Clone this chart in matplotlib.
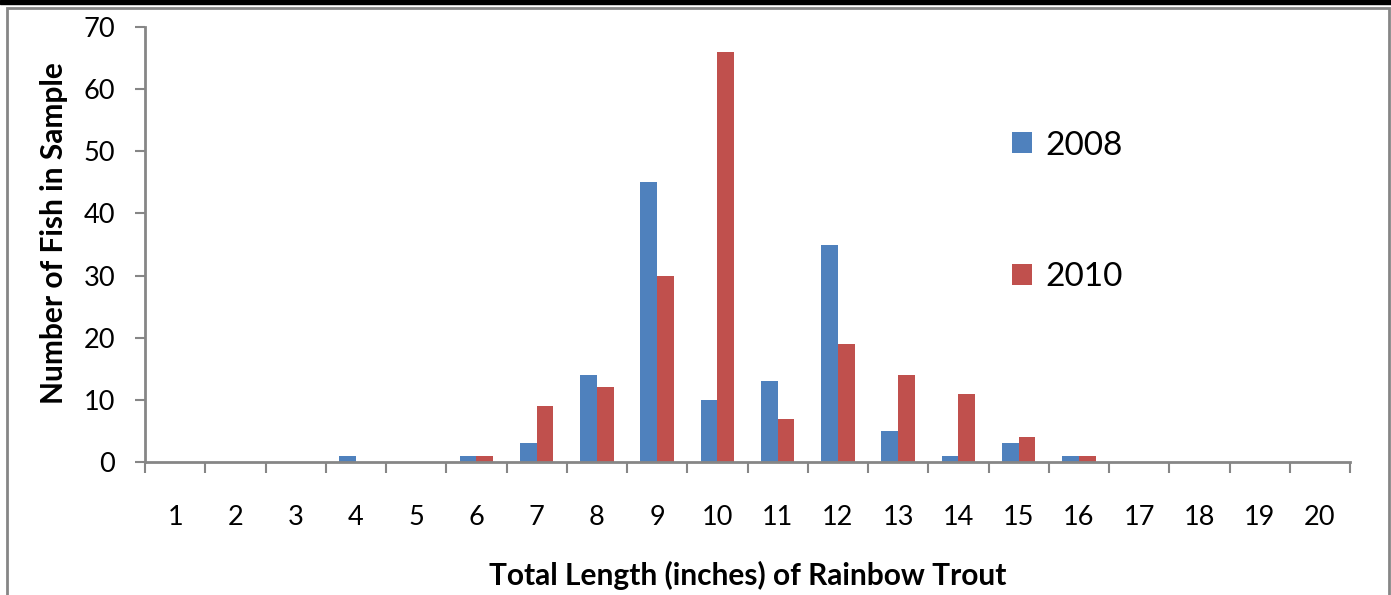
import numpy as np
import matplotlib.pyplot as plt
from matplotlib.patches import Rectangle

# Length classes (inches) and fish counts per year
lengths = list(range(1, 21))
count_2008 = [0, 0, 0, 1, 0, 1, 3, 14, 45, 10, 13, 35, 5, 1, 3, 1, 0, 0, 0, 0]
count_2010 = [0, 0, 0, 0, 0, 1, 9, 12, 30, 66, 7, 19, 14, 11, 4, 1, 0, 0, 0, 0]
series_names = ['2008', '2010']
y_ticks = [0, 10, 20, 30, 40, 50, 60, 70]

blue = '#4F81BD'
red = '#C0504D'
gray = '#868686'

plt.rcParams['font.family'] = ['Lato', 'DejaVu Sans']

fig = plt.figure(figsize=(13.91, 5.95), dpi=100)
ax = fig.add_axes([145 / 1391, 1 - 462 / 595, 1205 / 1391, 435 / 595])

x = np.array(lengths)
w = 0.28
ax.bar(x - w / 2, count_2008, w, color=blue, label=series_names[0])
ax.bar(x + w / 2, count_2010, w, color=red, label=series_names[1])

ax.set_xlim(0.5, 20.5)
ax.set_ylim(0, 70)
ax.set_yticks(y_ticks)

# category boundaries carry the tick marks, centres carry the labels
ax.set_xticks(np.arange(0.5, 21, 1))
ax.set_xticklabels([])
ax.set_xticks(x, minor=True)
ax.set_xticklabels([str(v) for v in lengths], minor=True)
ax.tick_params(axis='x', which='major', length=8, width=1.5, color=gray, direction='out')
ax.tick_params(axis='x', which='minor', length=0, pad=31, labelsize=19.5)
ax.tick_params(axis='y', length=7.5, width=1.5, color=gray, direction='out', pad=14, labelsize=19.5)

for s in ['top', 'right']:
    ax.spines[s].set_visible(False)
for s in ['left', 'bottom']:
    ax.spines[s].set_color(gray)
    ax.spines[s].set_linewidth(2)

ax.set_xlabel('Total Length (inches) of Rainbow Trout', fontsize=21.5, fontweight='bold')
ax.xaxis.set_label_coords(0.5, -0.228)
ax.set_ylabel('Number of Fish in Sample', fontsize=21.5, fontweight='bold')
ax.yaxis.set_label_coords(-0.064, 0.527)

ax.legend(loc='upper left', bbox_to_anchor=(0.7195, 0.762), frameon=False,
          fontsize=24, handlelength=0.6, handleheight=0.6, handletextpad=0.4,
          labelspacing=3.05, borderpad=0, borderaxespad=0)

# outer frame of the chart
fig.patches.append(Rectangle((7 / 1391, -0.1), 1382 / 1391, 1.1 - 8 / 595,
                             transform=fig.transFigure, fill=False,
                             edgecolor=gray, linewidth=2))
fig.patches.append(Rectangle((0, 1 - 4 / 595), 1, 4 / 595,
                             transform=fig.transFigure, color='black'))

fig.savefig('out.png', dpi=100)
